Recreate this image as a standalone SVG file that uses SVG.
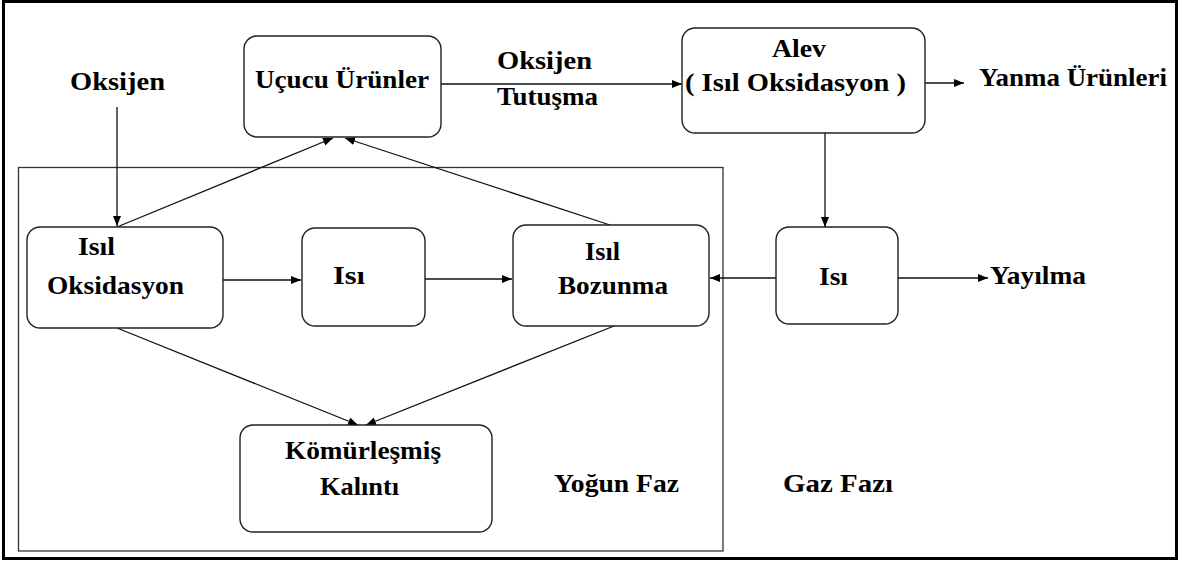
<svg xmlns="http://www.w3.org/2000/svg" width="1188" height="563" viewBox="0 0 1188 563">
  <style>
    .box { fill: #fff; stroke: #222; stroke-width: 1.4; }
    .frame { fill: none; stroke: #000; stroke-width: 3; }
    .phase { fill: none; stroke: #333; stroke-width: 1.3; }
    .edge { fill: none; stroke: #111; stroke-width: 1.3; marker-end: url(#arrow); }
    .t { font-weight: 700; font-size: 25px; fill: #000; }
  </style>
  <defs>
    <marker id="arrow" markerUnits="userSpaceOnUse" markerWidth="11" markerHeight="9" refX="10" refY="4" orient="auto">
      <path d="M0,0 L10,4 L0,8 z" fill="#000"/>
    </marker>
  </defs>

  <rect class="frame" x="3.5" y="1.5" width="1173" height="557"/>
  <rect class="phase" x="18.5" y="167.5" width="704.5" height="383.5"/>

  <g id="connectors">
    <path class="edge" d="M117,107 L117,226"/>
    <path class="edge" d="M117,227 L333,138"/>
    <path class="edge" d="M610,225 L345,138"/>
    <path class="edge" d="M441,84 L682,84"/>
    <path class="edge" d="M925,83 L964,83"/>
    <path class="edge" d="M825,133 L825,227"/>
    <path class="edge" d="M776,278 L710,278"/>
    <path class="edge" d="M898,278 L988,278"/>
    <path class="edge" d="M223,280 L301,280"/>
    <path class="edge" d="M425,279 L512,279"/>
    <path class="edge" d="M117,328 L358,425"/>
    <path class="edge" d="M614,326 L366,425"/>
  </g>

  <g font-family="Liberation Serif, DejaVu Serif, serif">
    <g id="label-oksijen">
      <text class="t" x="70" y="90" textLength="95" lengthAdjust="spacingAndGlyphs">Oksijen</text>
    </g>

    <g id="node-ucucu">
      <rect class="box" x="244" y="36" width="197" height="101" rx="13"/>
      <text class="t" x="255" y="88" textLength="174" lengthAdjust="spacingAndGlyphs">Uçucu Ürünler</text>
    </g>

    <g id="label-oksijen-tutusma">
      <text class="t" x="497" y="69" textLength="95" lengthAdjust="spacingAndGlyphs">Oksijen</text>
      <text class="t" x="497" y="105" textLength="101" lengthAdjust="spacingAndGlyphs">Tutuşma</text>
    </g>

    <g id="node-alev">
      <rect class="box" x="682" y="28" width="243" height="105" rx="13"/>
      <text class="t" x="772" y="57" textLength="54" lengthAdjust="spacingAndGlyphs">Alev</text>
      <text class="t" x="685" y="91" textLength="221" lengthAdjust="spacingAndGlyphs">( Isıl Oksidasyon )</text>
    </g>

    <g id="label-yanma">
      <text class="t" x="979" y="86" textLength="188" lengthAdjust="spacingAndGlyphs">Yanma Ürünleri</text>
    </g>

    <g id="node-isil-oksidasyon">
      <rect class="box" x="27" y="227" width="196" height="101" rx="13"/>
      <text class="t" x="78" y="255" textLength="37" lengthAdjust="spacingAndGlyphs">Isıl</text>
      <text class="t" x="47" y="294" textLength="137" lengthAdjust="spacingAndGlyphs">Oksidasyon</text>
    </g>

    <g id="node-isi-yogun">
      <rect class="box" x="302" y="228" width="123" height="98" rx="13"/>
      <text class="t" x="333" y="284" textLength="32" lengthAdjust="spacingAndGlyphs">Isı</text>
    </g>

    <g id="node-isil-bozunma">
      <rect class="box" x="513" y="225" width="196" height="101" rx="13"/>
      <text class="t" x="585" y="260" textLength="35" lengthAdjust="spacingAndGlyphs">Isıl</text>
      <text class="t" x="558" y="294" textLength="110" lengthAdjust="spacingAndGlyphs">Bozunma</text>
    </g>

    <g id="node-isi-gaz">
      <rect class="box" x="776" y="227" width="122" height="97" rx="13"/>
      <text class="t" x="819" y="285" textLength="29" lengthAdjust="spacingAndGlyphs">Isı</text>
    </g>

    <g id="label-yayilma">
      <text class="t" x="990" y="284" textLength="96" lengthAdjust="spacingAndGlyphs">Yayılma</text>
    </g>

    <g id="node-komur">
      <rect class="box" x="240" y="425" width="252" height="107" rx="13"/>
      <text class="t" x="285" y="459" textLength="156" lengthAdjust="spacingAndGlyphs">Kömürleşmiş</text>
      <text class="t" x="320" y="495" textLength="79" lengthAdjust="spacingAndGlyphs">Kalıntı</text>
    </g>

    <g id="label-yogun-faz">
      <text class="t" x="554" y="492" textLength="125" lengthAdjust="spacingAndGlyphs">Yoğun Faz</text>
    </g>

    <g id="label-gaz-fazi">
      <text class="t" x="783" y="492" textLength="110" lengthAdjust="spacingAndGlyphs">Gaz Fazı</text>
    </g>
  </g>
</svg>
